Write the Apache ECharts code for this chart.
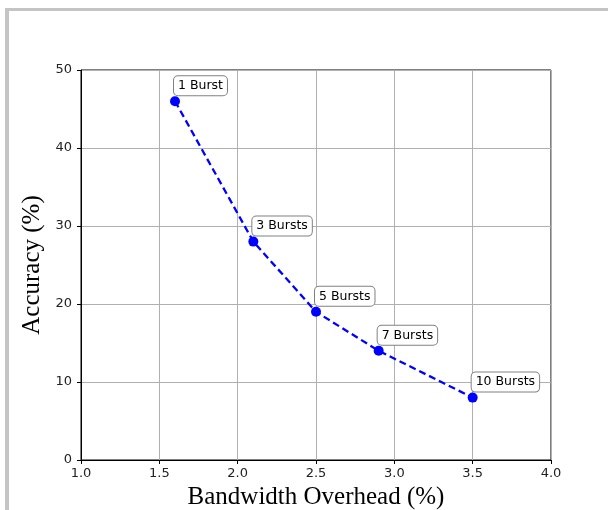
<!DOCTYPE html>
<html>
<head>
<meta charset="utf-8">
<script src="https://cdn.jsdelivr.net/npm/echarts@6/dist/echarts.min.js"></script>
<style>
  html, body { margin: 0; padding: 0; background: #fff; }
  #frame { position: absolute; left: 5px; top: 8px; width: 610px; height: 510px;
           border-top: 3px solid #c4c4c4; border-left: 4px solid #c4c4c4; }
  #chart { position: absolute; left: 0; top: 0; width: 608px; height: 510px; }
</style>
</head>
<body>
<div id="frame"></div>
<div id="chart"></div>
<script>
// 各突发次数对应的带宽开销与准确率
var overhead = [1.6, 2.1, 2.5, 2.9, 3.5];
var accuracy = [46, 28, 19, 14, 8];
var burstLabels = ['1 Burst', '3 Bursts', '5 Bursts', '7 Bursts', '10 Bursts'];
var xTicks = [1.0, 1.5, 2.0, 2.5, 3.0, 3.5, 4.0];
var yTicks = [0, 10, 20, 30, 40, 50];

var chart = echarts.init(document.getElementById('chart'));

var points = [];
for (var i = 0; i < overhead.length; i++) {
    points.push({ value: [overhead[i], accuracy[i]], name: burstLabels[i] });
}

var option = {
    animation: false,
    grid: {
        left: 81,
        right: 57,
        top: 70,
        bottom: 50,
        outerBoundsMode: 'none',
        containLabel: false,
        show: true,
        borderColor: '#000',
        borderWidth: 1
    },
    xAxis: {
        type: 'value',
        min: xTicks[0],
        max: xTicks[xTicks.length - 1],
        interval: 0.5,
        name: 'Bandwidth Overhead (%)',
        nameLocation: 'middle',
        nameGap: 25,
        nameTextStyle: { fontFamily: 'Liberation Serif', fontSize: 25, color: '#000' },
        axisLine: { show: true, lineStyle: { color: '#000', width: 1 } },
        axisTick: { show: true, length: 4, lineStyle: { color: '#000' } },
        axisLabel: {
            fontFamily: 'DejaVu Sans', fontSize: 13, color: '#222', margin: 7,
            formatter: function (v) { return v.toFixed(1); }
        },
        splitLine: { show: true, lineStyle: { color: '#b0b0b0', width: 1 } }
    },
    yAxis: {
        type: 'value',
        min: yTicks[0],
        max: yTicks[yTicks.length - 1],
        interval: 10,
        name: 'Accuracy (%)',
        nameLocation: 'middle',
        nameGap: 35,
        nameTextStyle: { fontFamily: 'Liberation Serif', fontSize: 25, color: '#000' },
        axisLine: { show: true, lineStyle: { color: '#000', width: 1 } },
        axisTick: { show: true, length: 4, lineStyle: { color: '#000' } },
        axisLabel: { fontFamily: 'DejaVu Sans', fontSize: 13, color: '#222', margin: 9 },
        splitLine: { show: true, lineStyle: { color: '#b0b0b0', width: 1 } }
    },
    series: [
        {
            type: 'line',
            data: points,
            symbol: 'circle',
            symbolSize: 10,
            itemStyle: { color: '#0000ff' },
            lineStyle: { color: '#0000ff', width: 2.3, type: [7, 4] },
            label: {
                show: true,
                position: [4, -1],
                align: 'left',
                verticalAlign: 'bottom',
                formatter: '{b}',
                fontFamily: 'DejaVu Sans',
                fontSize: 12.5,
                color: '#000',
                backgroundColor: '#fff',
                borderColor: '#808080',
                borderWidth: 1,
                borderRadius: 4,
                padding: [3, 4, 3, 4]
            }
        }
    ]
};
chart.setOption(option);

window.onresize = chart.resize;
</script>
</body>
</html>
